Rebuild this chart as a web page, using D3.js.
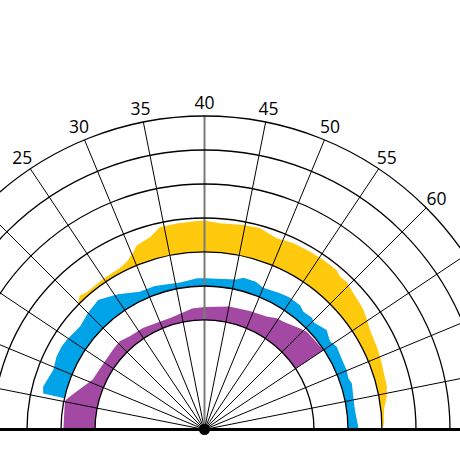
<!DOCTYPE html>
<html>
<head>
<meta charset="utf-8">
<script src="https://cdn.jsdelivr.net/npm/d3@7"></script>
<style>
  html, body { margin: 0; padding: 0; background: #ffffff; }
  svg { display: block; }
</style>
</head>
<body>
<div id="chart"></div>
<script>
// ---- data ----
const angleTicks = [0, 5, 10, 15, 20, 25, 30, 35, 40, 45, 50, 55, 60, 65, 70, 75, 80];
const tickLabels = [25, 30, 35, 40, 45, 50, 55, 60];
const ringValues = [1, 2, 3, 4, 5, 6, 7];

// purple band: base ring 1
const purpleBase = 1;
const purpleAngle = [0, 2.5, 4.7, 5.3, 6.5, 8.7, 10.7, 13.2, 15.7, 18.3, 20.5, 22.8, 26.1, 29.2, 32.4, 35.1, 37.4, 40, 45, 49.3, 52.8, 54.7, 56.1, 59.3, 60.6, 65];
const purpleOuter = [1.93, 1.93, 1.96, 1.96, 1.81, 1.56, 1.38, 1.34, 1.33, 1.35, 1.38, 1.29, 1.27, 1.22, 1.21, 1.27, 1.36, 1.38, 1.47, 1.51, 1.57, 1.68, 1.71, 1.87, 1.94, 1.99];

// blue band: base ring 2
const blueBase = 2;
const blueAngle = [5.6, 6.6, 9.6, 11.6, 13.4, 14.7, 17.6, 20, 22.5, 24, 25.5, 28.8, 31.5, 35.8, 38.8, 40, 45.3, 46.4, 48.5, 50, 52.9, 54.5, 56.7, 57.8, 59.5, 60.3, 62.6, 64.4, 65.7, 67.7, 69.9, 71.3, 72.3, 74.5, 76.7, 79.5, 80];
const blueOuter = [2.64, 2.69, 2.56, 2.63, 2.64, 2.61, 2.53, 2.63, 2.71, 2.60, 2.50, 2.26, 2.25, 2.16, 2.23, 2.23, 2.29, 2.39, 2.38, 2.29, 2.36, 2.40, 2.39, 2.30, 2.34, 2.28, 2.41, 2.29, 2.37, 2.32, 2.31, 2.27, 2.32, 2.26, 2.24, 2.30, 2.30];

// yellow band: base ring 3
const yellowBase = 3;
const yellowAngle = [20, 20.9, 22, 24.9, 27.7, 29, 30.3, 31, 33, 34.5, 36.6, 38.8, 40, 41.9, 44.8, 46.8, 49.2, 51.3, 53.6, 55.6, 57.6, 58.5, 59.5, 61.3, 63.4, 64.7, 66.2, 68.6, 70, 71.8, 74.1, 75.4, 77.2, 79, 79.5];
const yellowOuter = [3.04, 3.16, 3.10, 3.12, 3.14, 3.22, 3.40, 3.55, 3.66, 3.88, 3.89, 3.91, 3.93, 3.86, 3.90, 3.92, 3.79, 3.85, 3.86, 3.87, 3.87, 3.79, 3.81, 3.71, 3.64, 3.56, 3.46, 3.40, 3.37, 3.32, 3.29, 3.23, 3.09, 3.06, 3.04];

// ---- chart ----
const W = 460, H = 460;
const cx = 204.5, cy = 429.5;

const svg = d3.select("#chart").append("svg")
  .attr("width", W).attr("height", H);

const ang = d3.scaleLinear().domain([0, 80]).range([-Math.PI / 2, Math.PI / 2]);
const rad = d3.scaleLinear().domain([1, 7]).range([109.5, 313.5]);

const g = svg.append("g").attr("transform", `translate(${cx},${cy})`);

function band(angles, outer, base, color) {
  const pts = angles.map((a, i) => [a, outer[i]]);
  const area = d3.areaRadial()
    .angle(d => ang(d[0]))
    .innerRadius(rad(base))
    .outerRadius(d => rad(d[1]));
  g.append("path").datum(pts).attr("d", area).attr("fill", color);
}
band(yellowAngle, yellowOuter, yellowBase, "#FFC90E");
band(blueAngle, blueOuter, blueBase, "#00A2E8");
band(purpleAngle, purpleOuter, purpleBase, "#A349A4");

// spokes
const rMax = rad(d3.max(ringValues));
g.selectAll("line.spoke").data(angleTicks).enter().append("line")
  .attr("class", "spoke")
  .attr("x1", 0).attr("y1", 0)
  .attr("x2", d => rMax * Math.sin(ang(d)))
  .attr("y2", d => -rMax * Math.cos(ang(d)))
  .attr("stroke", d => d === 40 ? "#7a7a7a" : "#000")
  .attr("stroke-width", d => d === 40 ? 2 : 1);

// rings
const ringArc = d3.arc().startAngle(-Math.PI / 2).endAngle(Math.PI / 2);
g.selectAll("path.ring").data(ringValues).enter().append("path")
  .attr("class", "ring")
  .attr("d", d => ringArc({ innerRadius: rad(d), outerRadius: rad(d) }))
  .attr("fill", "none").attr("stroke", "#000").attr("stroke-width", 1.3);

// baseline
svg.append("line")
  .attr("x1", 0).attr("x2", W).attr("y1", cy).attr("y2", cy)
  .attr("stroke", "#000").attr("stroke-width", 3);

// center dot
g.append("circle").attr("r", 5.5).attr("fill", "#000");

// labels
const rLab = 328;
g.selectAll("text.lab").data(tickLabels).enter().append("text")
  .attr("class", "lab")
  .attr("x", d => rLab * Math.sin(ang(d)))
  .attr("y", d => -rLab * Math.cos(ang(d)))
  .attr("text-anchor", "middle")
  .attr("dominant-baseline", "central")
  .attr("font-family", "'Open Sans', 'Noto Sans', sans-serif")
  .attr("font-size", 17.5)
  .attr("fill", "#000")
  .text(d => d);
</script>
</body>
</html>
